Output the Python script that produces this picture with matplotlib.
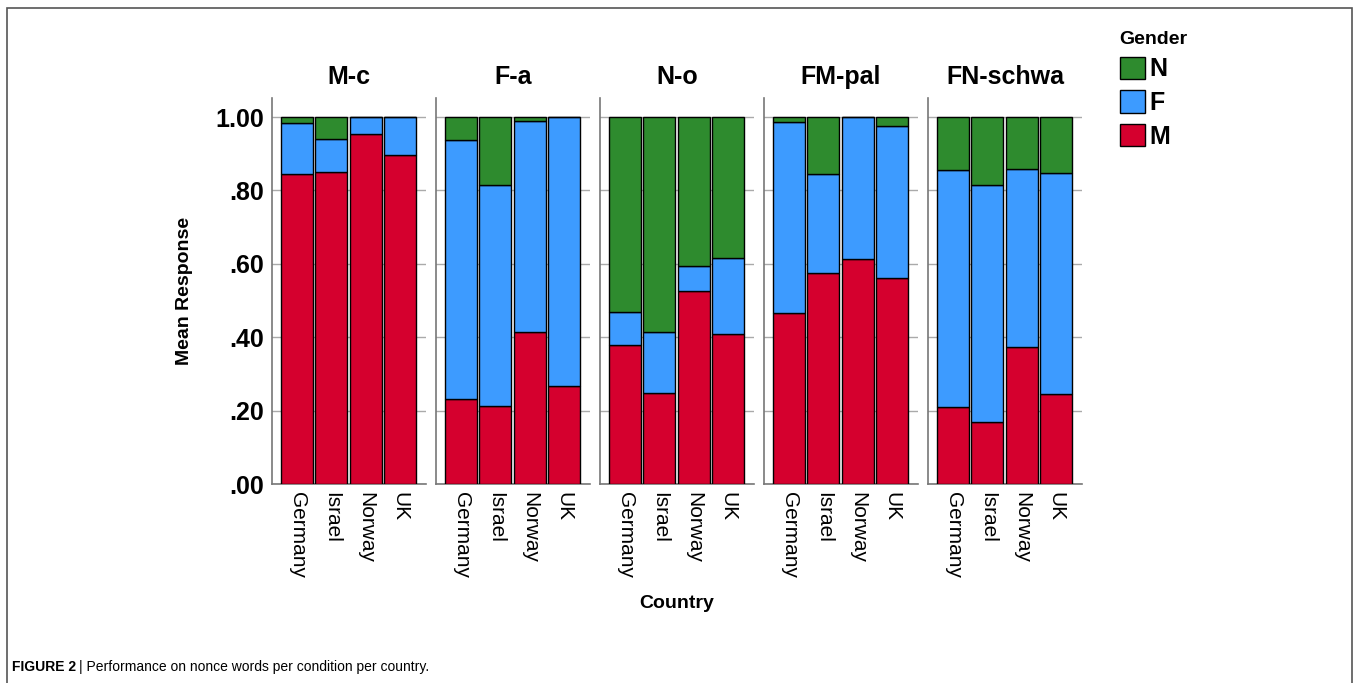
import numpy as np
import matplotlib.pyplot as plt
from matplotlib.patches import Patch, Rectangle

plt.rcParams['font.family'] = ['Liberation Sans', 'DejaVu Sans']

# ---Datos---
conditions = ['M-c', 'F-a', 'N-o', 'FM-pal', 'FN-schwa']
countries = ['Germany', 'Israel', 'Norway', 'UK']

# proporcion media de respuestas M / F / N por condicion y pais
m_resp = {
    'M-c':      [0.844, 0.850, 0.955, 0.898],
    'F-a':      [0.233, 0.212, 0.415, 0.268],
    'N-o':      [0.378, 0.247, 0.525, 0.410],
    'FM-pal':   [0.465, 0.575, 0.612, 0.561],
    'FN-schwa': [0.211, 0.170, 0.374, 0.246],
}
f_resp = {
    'M-c':      [0.141, 0.089, 0.045, 0.102],
    'F-a':      [0.705, 0.604, 0.574, 0.732],
    'N-o':      [0.090, 0.167, 0.069, 0.205],
    'FM-pal':   [0.522, 0.271, 0.388, 0.415],
    'FN-schwa': [0.646, 0.646, 0.484, 0.602],
}
n_resp = {
    'M-c':      [0.015, 0.061, 0.000, 0.000],
    'F-a':      [0.062, 0.184, 0.011, 0.000],
    'N-o':      [0.532, 0.586, 0.406, 0.385],
    'FM-pal':   [0.013, 0.154, 0.000, 0.024],
    'FN-schwa': [0.143, 0.184, 0.142, 0.152],
}

yticks = [0.0, 0.2, 0.4, 0.6, 0.8, 1.0]
ytick_labels = ['.00', '.20', '.40', '.60', '.80', '1.00']

c_m = '#d5002e'
c_f = '#3d9bff'
c_n = '#2e8b2e'

# ---Figura---
W, H = 1358, 683
fig = plt.figure(figsize=(W / 100, H / 100), dpi=100)

# marco exterior
fig.patches.append(Rectangle((7 / W, -0.02), 1345 / W, 1 - 8 / H + 0.02,
                             transform=fig.transFigure, fill=False,
                             edgecolor='#555555', linewidth=1.2))

lefts = [272, 436, 600, 764, 928]
pw = 154
bottom_px, top_px = 484, 98
x = np.arange(len(countries))

for i, cond in enumerate(conditions):
    ax = fig.add_axes([lefts[i] / W, 1 - bottom_px / H, pw / W, (bottom_px - top_px) / H])
    m = np.array(m_resp[cond])
    f = np.array(f_resp[cond])
    n = np.array(n_resp[cond])
    kw = dict(width=0.93, edgecolor='black', linewidth=1.0, zorder=3)
    ax.bar(x, m, color=c_m, **kw)
    ax.bar(x, f, bottom=m, color=c_f, **kw)
    ax.bar(x, n, bottom=m + f, color=c_n, **kw)

    ax.set_xlim(-0.73, 3.75)
    ax.set_ylim(0, 1.052)
    ax.set_yticks(yticks)
    ax.yaxis.grid(True, color='#aaaaaa', linewidth=1.0, zorder=0)
    ax.set_axisbelow(True)
    ax.tick_params(axis='y', length=0, pad=6)
    ax.tick_params(axis='x', length=0, pad=6)
    ax.set_xticks(x)
    ax.set_xticklabels(countries, rotation=270, fontsize=15)
    if i == 0:
        ax.set_yticklabels(ytick_labels, fontsize=18, fontweight='bold')
        ax.set_ylabel('Mean Response', fontsize=14, fontweight='bold', labelpad=16)
    else:
        ax.set_yticklabels([])
    for s in ['top', 'right']:
        ax.spines[s].set_visible(False)
    for s in ['left', 'bottom']:
        ax.spines[s].set_color('#777777')
        ax.spines[s].set_linewidth(1.2)
    ax.set_title(cond, fontsize=18, fontweight='bold', pad=10)

fig.text(677 / W, 1 - 604 / H, 'Country', fontsize=14, fontweight='bold',
         ha='center', va='center')

# leyenda
fig.legend(handles=[Patch(facecolor=c_n, edgecolor='black', label='N'),
                    Patch(facecolor=c_f, edgecolor='black', label='F'),
                    Patch(facecolor=c_m, edgecolor='black', label='M')],
           title='Gender', loc='upper left', bbox_to_anchor=(1097 / W, 1 - 8 / H),
           frameon=False, prop={'size': 18, 'weight': 'bold'},
           title_fontproperties={'size': 14, 'weight': 'bold'}, alignment='left',
           handlelength=1.0, handleheight=1.0, handletextpad=0.2, labelspacing=0.36)

# pie de figura
fig.text(12 / W, 1 - 667 / H, 'FIGURE 2', fontsize=10, fontweight='bold', va='center')
fig.text(79 / W, 1 - 667 / H, '| Performance on nonce words per condition per country.',
         fontsize=10, va='center')

fig.savefig('out.png', dpi=100)
